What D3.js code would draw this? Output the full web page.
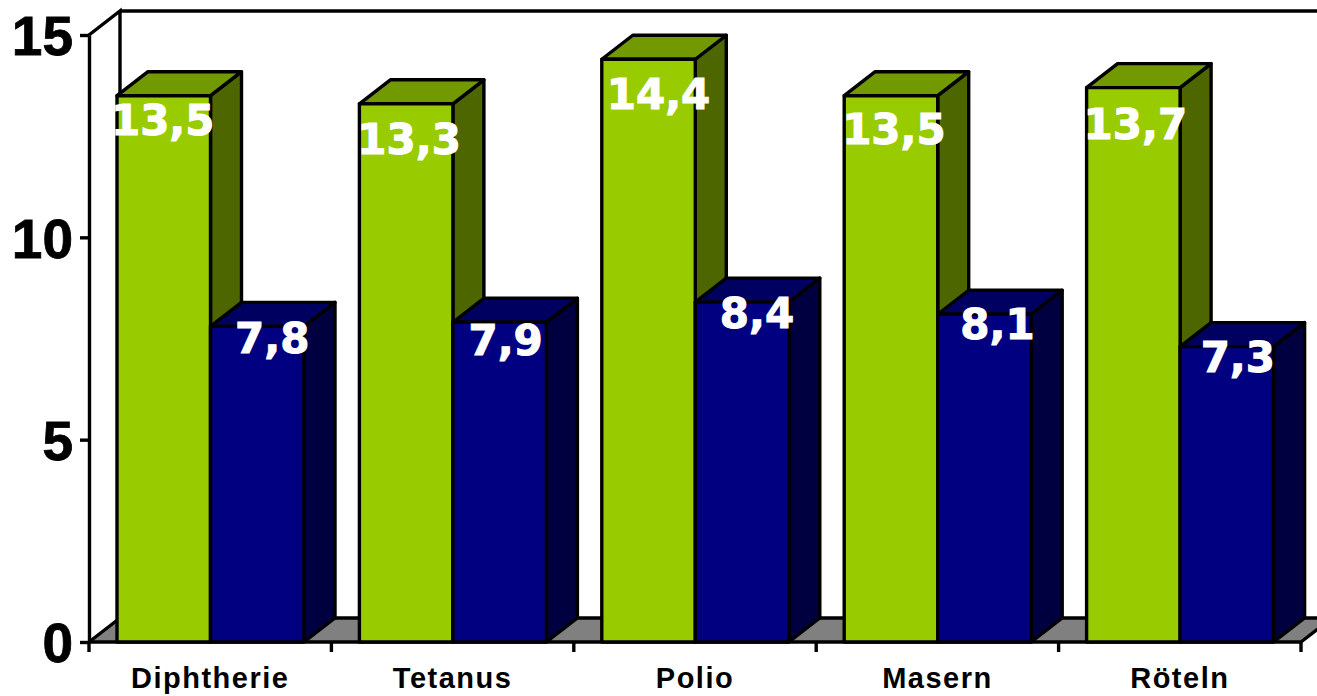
<!DOCTYPE html>
<html>
<head>
<meta charset="utf-8">
<script src="https://cdn.jsdelivr.net/npm/d3@7"></script>
<style>
  html, body { margin: 0; padding: 0; background: #fff; overflow: hidden; }
  svg { display: block; }
  .yAxis text { font: bold 55px "Liberation Sans", Arial, sans-serif; fill: #000; stroke: #000; stroke-width: 0.8px; }
  .xAxis text { font: bold 29px "Liberation Sans", Arial, sans-serif; letter-spacing: 1.5px; fill: #000; }
  .value { font: bold 42px "DejaVu Sans", Verdana, sans-serif; fill: #fff; stroke: #fff; stroke-width: 1px; text-anchor: middle; }
</style>
</head>
<body>
<script>
const categories = ['Diphtherie', 'Tetanus', 'Polio', 'Masern', 'Röteln'];
const seriesNames = ['a', 'b'];
const seriesA = [13.5, 13.3, 14.4, 13.5, 13.7];
const seriesB = [7.8, 7.9, 8.4, 8.1, 7.3];
const yTicks = [0, 5, 10, 15];

// hand-placed label shifts, the original chart nudges each one [dx, dy]
const nudgeA = [[-1, 39], [3, 50], [10, 50], [3, 48], [2, 51]];
const nudgeB = [[15, 27], [6, 33], [15, 26], [13, 25], [11, 25]];

const WIDTH = 1317;
const HEIGHT = 696;
const DEPTH_X = 31;
const DEPTH_Y = 24;
const STROKE = 3.4;

const COLORS = {
  a: { front: '#99CC00', top: '#739900', side: '#4D6600' },
  b: { front: '#000080', top: '#000060', side: '#000040' }
};

const x = d3.scaleBand().domain(categories).range([89, 1301]);
const xInner = d3.scaleBand().domain(seriesNames).range([28, 215]);
const y = d3.scaleLinear().domain([0, 15]).range([642, 35]);

const svg = d3.select('body').append('svg')
  .attr('width', WIDTH)
  .attr('height', HEIGHT);

const y0 = y(0);
const yMax = y(15);

// back walls and floor
svg.append('polygon')
  .attr('points', [
    [x.range()[0], y0],
    [x.range()[0] + DEPTH_X, y0 - DEPTH_Y],
    [x.range()[1] + DEPTH_X, y0 - DEPTH_Y],
    [x.range()[1], y0]
  ].join(' '))
  .attr('fill', '#808080')
  .attr('stroke', '#000')
  .attr('stroke-width', STROKE)
  .attr('stroke-linejoin', 'round');

svg.append('path')
  .attr('d', `M${x.range()[0]},${yMax}L${x.range()[0] + DEPTH_X},${yMax - DEPTH_Y}` +
    `L${x.range()[0] + DEPTH_X},${y0 - DEPTH_Y}` +
    `M${x.range()[0] + DEPTH_X},${yMax - DEPTH_Y}H${WIDTH}`)
  .attr('fill', 'none')
  .attr('stroke', '#000')
  .attr('stroke-width', STROKE);

// bars, green before blue so the blue top covers the green side
const bars = [];
categories.forEach((cat, i) => {
  bars.push({ cat, series: 'a', value: seriesA[i], nudge: nudgeA[i] });
  bars.push({ cat, series: 'b', value: seriesB[i], nudge: nudgeB[i] });
});

const barG = svg.append('g').selectAll('g').data(bars).enter().append('g')
  .attr('stroke', '#000')
  .attr('stroke-width', STROKE)
  .attr('stroke-linejoin', 'round');

const left = d => x(d.cat) + xInner(d.series);
const right = d => left(d) + xInner.bandwidth();

barG.append('polygon')
  .attr('fill', d => COLORS[d.series].side)
  .attr('points', d => [
    [right(d), y(d.value)],
    [right(d) + DEPTH_X, y(d.value) - DEPTH_Y],
    [right(d) + DEPTH_X, y0 - DEPTH_Y],
    [right(d), y0]
  ].join(' '));
barG.append('polygon')
  .attr('fill', d => COLORS[d.series].top)
  .attr('points', d => [
    [left(d), y(d.value)],
    [left(d) + DEPTH_X, y(d.value) - DEPTH_Y],
    [right(d) + DEPTH_X, y(d.value) - DEPTH_Y],
    [right(d), y(d.value)]
  ].join(' '));
barG.append('rect')
  .attr('fill', d => COLORS[d.series].front)
  .attr('x', left)
  .attr('y', d => y(d.value))
  .attr('width', xInner.bandwidth())
  .attr('height', d => y0 - y(d.value));

// axes
const yAxis = svg.append('g')
  .attr('class', 'yAxis')
  .attr('transform', `translate(${x.range()[0]},0)`)
  .call(d3.axisLeft(y).tickValues(yTicks).tickSize(9).tickPadding(7).tickSizeOuter(0));
yAxis.selectAll('line').attr('stroke', '#000').attr('stroke-width', STROKE);
yAxis.select('.domain').attr('stroke', '#000').attr('stroke-width', STROKE);
yAxis.selectAll('text').attr('dy', '0.36em');

const xAxis = svg.append('g')
  .attr('class', 'xAxis')
  .attr('transform', `translate(0,${y0})`)
  .call(d3.axisBottom(x).tickSize(0).tickPadding(25));
xAxis.select('.domain').remove();
xAxis.selectAll('text').attr('dy', '0.71em');

// tick marks sit on the band edges, not the centres
svg.append('g').selectAll('line')
  .data(categories.concat(null))
  .enter().append('line')
  .attr('x1', d => d ? x(d) : x.range()[1])
  .attr('x2', d => d ? x(d) : x.range()[1])
  .attr('y1', y0)
  .attr('y2', y0 + 10)
  .attr('stroke', '#000')
  .attr('stroke-width', STROKE);

// value labels on top of everything
svg.append('g').selectAll('text').data(bars).enter().append('text')
  .attr('class', 'value')
  .attr('x', d => (left(d) + right(d)) / 2 + d.nudge[0])
  .attr('y', d => y(d.value) + d.nudge[1])
  .text(d => String(d.value).replace('.', ','));
</script>
</body>
</html>
